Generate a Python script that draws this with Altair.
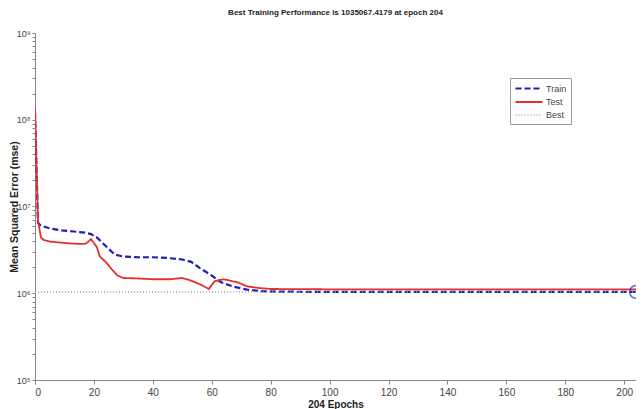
import altair as alt
import pandas as pd

# ---- data ----
train_epochs = [0, 1, 2, 5, 9, 13, 17, 19, 21, 24, 27, 30, 35, 40, 45, 50, 53, 56, 60, 63, 67, 72, 78, 90, 120, 160, 204]
train_mse = [1.2e8, 6.5e6, 6.0e6, 5.6e6, 5.3e6, 5.15e6, 5.0e6, 4.8e6, 4.4e6, 3.5e6, 2.8e6, 2.65e6, 2.6e6, 2.6e6, 2.55e6, 2.45e6, 2.3e6, 1.95e6, 1.6e6, 1.35e6, 1.2e6, 1.1e6, 1.05e6, 1.04e6, 1.037e6, 1.036e6, 1035067.4179]

test_epochs = [0, 1, 2, 3, 5, 8, 10, 12, 15, 17, 18, 19, 20, 21, 22, 24, 26, 28, 30, 35, 40, 46, 50, 53, 56, 59, 61, 64, 69, 72, 76, 80, 100, 140, 204]
test_mse = [1.4e8, 7.0e6, 4.4e6, 4.1e6, 3.95e6, 3.85e6, 3.8e6, 3.75e6, 3.7e6, 3.7e6, 3.9e6, 4.2e6, 3.8e6, 3.4e6, 2.65e6, 2.3e6, 1.9e6, 1.6e6, 1.5e6, 1.48e6, 1.45e6, 1.45e6, 1.5e6, 1.4e6, 1.27e6, 1.12e6, 1.38e6, 1.45e6, 1.33e6, 1.2e6, 1.15e6, 1.12e6, 1.11e6, 1.11e6, 1.11e6]

best_epoch = 204
best_value = 1035067.4179
series_names = ["Train", "Test", "Best"]
series_colors = ["#1f1fb4", "#e03030", "#a8a8a8"]
x_ticks = [0, 20, 40, 60, 80, 100, 120, 140, 160, 180, 200]

rows = []
for e, v in zip(train_epochs, train_mse):
    rows.append({"epoch": e, "mse": v, "series": "Train"})
for e, v in zip(test_epochs, test_mse):
    rows.append({"epoch": e, "mse": v, "series": "Test"})
for e in [0, best_epoch]:
    rows.append({"epoch": e, "mse": best_value, "series": "Best"})
df = pd.DataFrame(rows)
best_df = pd.DataFrame({"epoch": [best_epoch], "mse": [best_value]})

y_values = []
for p in range(5, 9):
    for m in range(1, 10):
        y_values.append(m * 10 ** p)
y_values.append(10 ** 9)

label_expr = ("datum.value == 100000 ? '10\u2075' : datum.value == 1000000 ? '10\u2076' : "
              "datum.value == 10000000 ? '10\u2077' : datum.value == 100000000 ? '10\u2078' : "
              "datum.value == 1000000000 ? '10\u2079' : ''")

FONT = "Liberation Sans Narrow, Liberation Sans, Arial, sans-serif"

x = alt.X("epoch:Q", scale=alt.Scale(domain=[0, 204], nice=False),
          axis=alt.Axis(values=x_ticks, title="204 Epochs", grid=False, tickSize=4,
                        labelFont=FONT, labelFontSize=10, labelColor="#444",
                        titleFont="Liberation Sans", titleFontSize=10, titleFontWeight="bold",
                        titleColor="#222", titlePadding=2, labelPadding=3,
                        domainColor="#888", tickColor="#888"))
y = alt.Y("mse:Q", scale=alt.Scale(type="log", domain=[1e5, 1e9], nice=False),
          axis=alt.Axis(values=y_values, labelExpr=label_expr, labelOverlap=False,
                        title="Mean Squared Error  (mse)", grid=False, tickSize=3,
                        labelFont=FONT, labelFontSize=9, labelColor="#444", labelPadding=2,
                        titleFont="Liberation Sans", titleFontSize=10.5, titleFontWeight="bold",
                        titleColor="#222", titleX=-16,
                        domainColor="#888", tickColor="#888"))

lines = alt.Chart(df).mark_line(clip=True).encode(
    x=x, y=y,
    color=alt.Color("series:N", scale=alt.Scale(domain=series_names, range=series_colors),
                    legend=alt.Legend(title=None, orient="none", legendX=475, legendY=45,
                                      strokeColor="#999", fillColor="white", padding=4,
                                      labelFont=FONT, labelFontSize=9, labelColor="#444",
                                      symbolType="M-1,0H4.4", symbolSize=100, symbolStrokeWidth=2,
                                      rowPadding=2, labelOffset=19)),
    strokeDash=alt.StrokeDash("series:N", scale=alt.Scale(domain=series_names,
                                                          range=[[6, 3], [1, 0], [1, 2]]),
                              legend=None),
    strokeWidth=alt.StrokeWidth("series:N", scale=alt.Scale(domain=series_names, range=[2.2, 1.4, 1.2]),
                                legend=None),
    order=alt.Order("epoch:Q"),
)

marker = alt.Chart(best_df).mark_point(shape="circle", filled=False, size=160, color="#1f1fb4",
                                       strokeWidth=1.5).encode(x=x, y=y)

chart = alt.layer(lines, marker).properties(
    width=601, height=347,
    title=alt.TitleParams("Best Training Performance is 1035067.4179 at epoch 204",
                          font="Liberation Sans", fontSize=8, fontWeight="bold",
                          color="#222", offset=12),
    autosize=alt.AutoSizeParams(type="none"),
    padding={"left": 27, "top": 25, "right": 0, "bottom": 29},
).configure_view(stroke=None)

chart.save("out.html", embed_options={"renderer": "svg", "actions": False})
